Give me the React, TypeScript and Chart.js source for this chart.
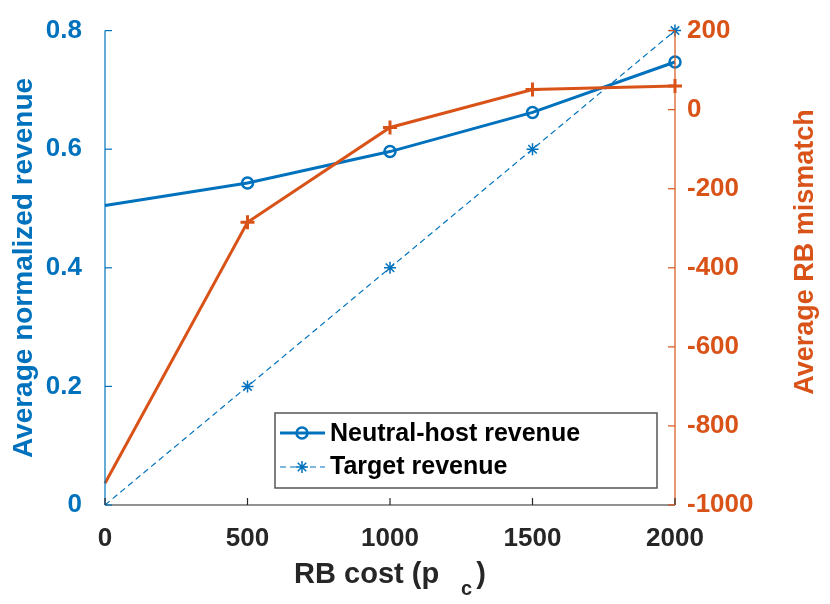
import React, { useEffect, useRef } from "react";
import { Chart, registerables } from "chart.js";

Chart.register(...registerables);

// data
const rbCost = [0, 500, 1000, 1500, 2000];
const neutralHostRevenue = [0.505, 0.543, 0.596, 0.662, 0.747];
const targetRevenue = [0, 0.2, 0.4, 0.6, 0.8];
const rbMismatch = [-945, -285, -45, 51, 60];
const legendLabels = ["Neutral-host revenue", "Target revenue"];

const BLUE = "#0072BD";
const ORANGE = "#D95319";
const GRAY = "#262626";
const FONT = "'Liberation Sans', Arial, sans-serif";

const toPoints = (ys: number[]) => rbCost.map((x, i) => ({ x, y: ys[i] }));
const radii = (r: number) => rbCost.map((_, i) => (i === 0 ? 0 : r));
const plain = (v: any) => String(Math.round(Number(v) * 1000) / 1000);

const decorPlugin = {
  id: "decor",
  afterDraw(chart: any) {
    const { ctx, chartArea: a, scales } = chart;
    const x = scales.x;
    const yl = scales.y;
    const yr = scales.y2;
    ctx.save();

    // axis lines
    ctx.lineWidth = 1.2;
    ctx.strokeStyle = GRAY;
    ctx.beginPath();
    ctx.moveTo(a.left, a.bottom);
    ctx.lineTo(a.right, a.bottom);
    ctx.stroke();
    ctx.strokeStyle = BLUE;
    ctx.beginPath();
    ctx.moveTo(a.left, a.top);
    ctx.lineTo(a.left, a.bottom);
    ctx.stroke();
    ctx.strokeStyle = ORANGE;
    ctx.beginPath();
    ctx.moveTo(a.right, a.top);
    ctx.lineTo(a.right, a.bottom);
    ctx.stroke();

    // inward ticks
    const tl = 7;
    ctx.strokeStyle = GRAY;
    x.ticks.forEach((t: any) => {
      const px = x.getPixelForValue(t.value);
      ctx.beginPath();
      ctx.moveTo(px, a.bottom);
      ctx.lineTo(px, a.bottom - tl);
      ctx.stroke();
    });
    ctx.strokeStyle = BLUE;
    yl.ticks.forEach((t: any) => {
      const py = yl.getPixelForValue(t.value);
      ctx.beginPath();
      ctx.moveTo(a.left, py);
      ctx.lineTo(a.left + tl, py);
      ctx.stroke();
    });
    ctx.strokeStyle = ORANGE;
    yr.ticks.forEach((t: any) => {
      const py = yr.getPixelForValue(t.value);
      ctx.beginPath();
      ctx.moveTo(a.right, py);
      ctx.lineTo(a.right - tl, py);
      ctx.stroke();
    });

    // axis titles
    ctx.textBaseline = "middle";
    ctx.textAlign = "center";
    ctx.fillStyle = BLUE;
    ctx.font = `bold 28px ${FONT}`;
    ctx.save();
    ctx.translate(24, 268);
    ctx.rotate(-Math.PI / 2);
    ctx.fillText("Average normalized revenue", 0, 0);
    ctx.restore();

    ctx.fillStyle = ORANGE;
    ctx.font = `bold 27px ${FONT}`;
    ctx.save();
    ctx.translate(806, 252);
    ctx.rotate(-Math.PI / 2);
    ctx.fillText("Average RB mismatch", 0, 0);
    ctx.restore();

    // x title with subscript
    ctx.textAlign = "left";
    ctx.textBaseline = "alphabetic";
    ctx.fillStyle = GRAY;
    const main = "RB cost (p";
    ctx.font = `bold 29px ${FONT}`;
    const wMain = ctx.measureText(main).width;
    const wClose = ctx.measureText(")").width;
    ctx.font = `bold 20px ${FONT}`;
    const wSub = ctx.measureText("c").width;
    const gap = 22;
    const total = wMain + gap + wSub + 4 + wClose;
    let tx = (a.left + a.right) / 2 - total / 2;
    ctx.font = `bold 29px ${FONT}`;
    ctx.fillText(main, tx, 583);
    tx += wMain + gap;
    ctx.font = `bold 20px ${FONT}`;
    ctx.fillText("c", tx, 595);
    tx += wSub + 4;
    ctx.font = `bold 29px ${FONT}`;
    ctx.fillText(")", tx, 583);

    // legend
    const bx = 275, by = 413, bw = 382, bh = 75;
    ctx.fillStyle = "#fff";
    ctx.fillRect(bx, by, bw, bh);
    ctx.strokeStyle = "#555";
    ctx.lineWidth = 1.5;
    ctx.strokeRect(bx, by, bw, bh);

    const rows = [433, 467];
    // neutral-host sample
    ctx.strokeStyle = BLUE;
    ctx.lineWidth = 3;
    ctx.beginPath();
    ctx.moveTo(280, rows[0]);
    ctx.lineTo(325, rows[0]);
    ctx.stroke();
    ctx.lineWidth = 2.5;
    ctx.beginPath();
    ctx.arc(302, rows[0], 5.5, 0, Math.PI * 2);
    ctx.stroke();
    // target sample
    ctx.lineWidth = 1.2;
    ctx.setLineDash([6, 4]);
    ctx.beginPath();
    ctx.moveTo(280, rows[1]);
    ctx.lineTo(325, rows[1]);
    ctx.stroke();
    ctx.setLineDash([]);
    ctx.lineWidth = 1.5;
    const r = 6;
    ctx.beginPath();
    for (let k = 0; k < 4; k++) {
      const ang = (k * Math.PI) / 4;
      ctx.moveTo(302 - r * Math.cos(ang), rows[1] - r * Math.sin(ang));
      ctx.lineTo(302 + r * Math.cos(ang), rows[1] + r * Math.sin(ang));
    }
    ctx.stroke();

    ctx.fillStyle = "#000";
    ctx.font = `bold 25px ${FONT}`;
    ctx.textBaseline = "middle";
    ctx.fillText(legendLabels[0], 330, rows[0] + 1);
    ctx.fillText(legendLabels[1], 330, rows[1]);

    ctx.restore();
  },
};

const App = () => {
  const canvasRef = useRef<HTMLCanvasElement>(null);

  useEffect(() => {
    document.body.style.margin = "0";
    const ctx = canvasRef.current!.getContext("2d")!;
    const chart = new Chart(ctx, {
      type: "line",
      data: {
        datasets: [
          {
            label: "RB mismatch",
            data: toPoints(rbMismatch),
            yAxisID: "y2",
            borderColor: ORANGE,
            backgroundColor: ORANGE,
            borderWidth: 3,
            pointStyle: "cross",
            pointRadius: radii(7),
            pointBorderWidth: 3,
            clip: false,
          },
          {
            label: legendLabels[1],
            data: toPoints(targetRevenue),
            yAxisID: "y",
            borderColor: BLUE,
            backgroundColor: BLUE,
            borderWidth: 1.2,
            borderDash: [6, 4],
            pointStyle: "star",
            pointRadius: radii(6),
            pointBorderWidth: 1.5,
            clip: false,
          },
          {
            label: legendLabels[0],
            data: toPoints(neutralHostRevenue),
            yAxisID: "y",
            borderColor: BLUE,
            backgroundColor: "rgba(0,0,0,0)",
            borderWidth: 3,
            pointStyle: "circle",
            pointRadius: radii(5.5),
            pointBorderWidth: 2.5,
            clip: false,
          },
        ],
      },
      options: {
        animation: false,
        responsive: false,
        layout: { padding: { top: 19, left: 0, right: 0, bottom: 0 } },
        plugins: { legend: { display: false }, tooltip: { enabled: false } },
        scales: {
          x: {
            type: "linear",
            min: 0,
            max: 2000,
            grid: { display: false },
            border: { display: false },
            ticks: {
              stepSize: 500,
              color: GRAY,
              padding: 10,
              callback: plain,
              font: { family: FONT, size: 26, weight: "bold" },
            },
            afterFit: (s: any) => {
              s.height = 99;
            },
          },
          y: {
            type: "linear",
            position: "left",
            min: 0,
            max: 0.8,
            grid: { display: false },
            border: { display: false },
            ticks: {
              stepSize: 0.2,
              color: BLUE,
              padding: 15,
              callback: plain,
              font: { family: FONT, size: 26, weight: "bold" },
            },
            afterFit: (s: any) => {
              s.width = 105;
            },
          },
          y2: {
            type: "linear",
            position: "right",
            min: -1000,
            max: 200,
            grid: { display: false },
            border: { display: false },
            ticks: {
              stepSize: 200,
              color: ORANGE,
              padding: 4,
              callback: plain,
              font: { family: FONT, size: 26, weight: "bold" },
            },
            afterFit: (s: any) => {
              s.width = 155;
            },
          },
        },
      },
      plugins: [decorPlugin],
    });

    return () => {
      chart.destroy();
    };
  }, []);

  return (
    <div style={{ width: 830, height: 604 }}>
      <canvas ref={canvasRef} width="830" height="604"></canvas>
    </div>
  );
};

export default App;
